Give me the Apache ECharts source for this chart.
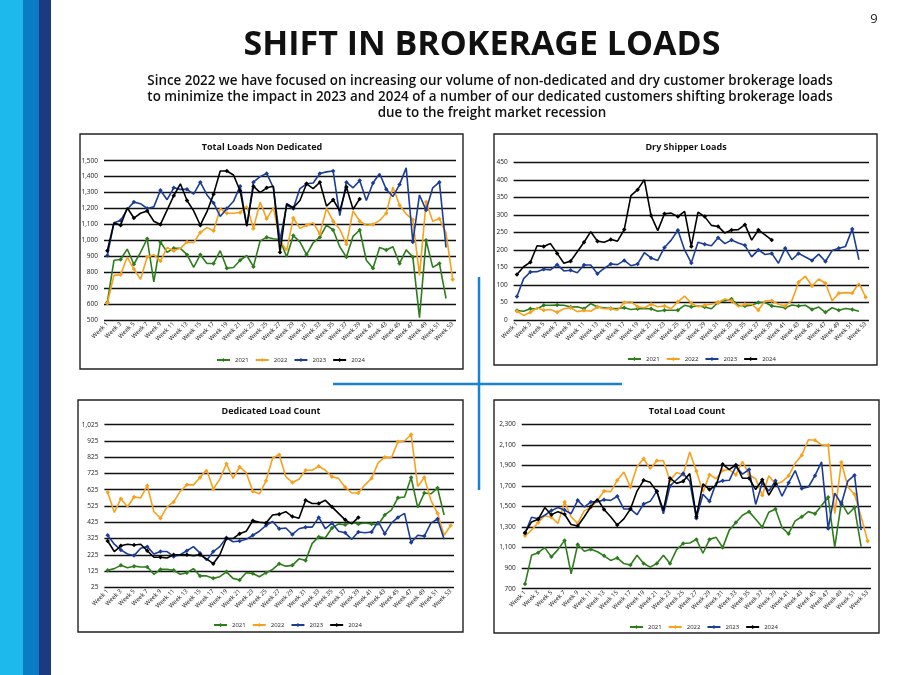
<!DOCTYPE html>
<html><head><meta charset="utf-8">
<script src="https://cdn.jsdelivr.net/npm/echarts@6/dist/echarts.min.js"></script>
<style>html,body{margin:0;padding:0;background:#fff}#c{width:900px;height:675px}</style>
</head><body><div id="c"></div>
<script>
const weeks = ['Week 1','Week 2','Week 3','Week 4','Week 5','Week 6','Week 7','Week 8','Week 9','Week 10',
'Week 11','Week 12','Week 13','Week 14','Week 15','Week 16','Week 17','Week 18','Week 19','Week 20',
'Week 21','Week 22','Week 23','Week 24','Week 25','Week 26','Week 27','Week 28','Week 29','Week 30',
'Week 31','Week 32','Week 33','Week 34','Week 35','Week 36','Week 37','Week 38','Week 39','Week 40',
'Week 41','Week 42','Week 43','Week 44','Week 45','Week 46','Week 47','Week 48','Week 49','Week 50',
'Week 51','Week 52','Week 53'];
const years = ['2021','2022','2023','2024'];

// Total Loads Non Dedicated
const nd2021 = [610,875,880,945,850,925,1010,740,990,925,950,950,910,830,910,855,855,935,825,830,875,905,835,995,1020,1010,1005,895,1030,990,910,985,1020,1095,1065,960,895,1025,1065,875,825,955,940,960,855,940,895,515,1000,830,855,635];
const nd2022 = [605,780,785,895,820,755,895,910,870,955,935,950,990,985,1050,1080,1060,1200,1170,1170,1175,1215,1075,1240,1135,1205,1000,935,1140,1075,1095,1110,1040,1200,1120,1070,975,1185,1120,1095,1100,1125,1170,1335,1220,1165,1130,780,1240,1120,1135,1045,755];
const nd2023 = [905,1110,1125,1195,1240,1230,1200,1210,1315,1255,1330,1320,1320,1290,1365,1285,1235,1150,1200,1245,1340,1090,1365,1400,1420,1330,1000,1220,1200,1325,1355,1360,1420,1430,1435,1155,1365,1330,1375,1250,1360,1420,1320,1275,1350,1455,990,1285,1190,1330,1365,955];
const nd2024 = [935,1110,1095,1205,1140,1170,1185,1120,1100,1190,1280,1355,1250,1185,1095,1180,1290,1435,1435,1410,1310,1090,1340,1300,1330,1340,925,1230,1205,1250,1355,1325,1365,1215,1255,1185,1335,1195,1260];

// Dry Shipper Loads
const dry2021 = [27,25,32,32,42,42,43,42,37,38,32,47,37,35,33,33,35,30,32,33,32,25,28,28,28,42,38,40,37,32,50,55,60,42,40,42,50,50,40,38,35,43,40,42,30,37,22,35,28,33,30,25];
const dry2022 = [25,13,22,35,28,30,22,32,35,24,27,25,37,32,32,28,50,52,38,35,45,38,40,32,52,68,48,38,42,45,50,60,55,38,45,45,28,55,55,45,40,55,108,125,97,117,105,55,76,78,77,105,65];
const dry2023 = [67,118,137,138,145,143,158,140,142,135,157,157,132,147,160,158,170,155,160,192,177,170,207,228,256,200,163,222,216,212,235,218,228,220,213,180,200,187,190,162,205,172,190,180,170,188,167,198,205,210,260,172];
const dry2024 = [130,152,165,212,210,218,190,162,168,195,222,252,225,222,230,225,258,355,372,400,298,255,303,305,295,310,210,308,295,270,267,248,257,258,272,228,257,243,228];

// Dedicated Load Count
const ded2021 = [130,140,160,145,155,150,150,105,135,135,130,105,115,140,95,95,80,90,120,80,70,115,110,90,115,135,170,155,160,200,190,295,335,330,390,415,410,425,415,420,415,410,470,500,575,580,700,515,605,600,635,470];
const ded2022 = [610,485,570,520,580,575,650,490,450,520,550,615,655,655,700,750,630,690,785,695,765,730,615,600,680,820,840,705,670,690,745,745,770,745,705,695,640,605,605,655,695,790,825,820,920,925,965,645,700,560,480,345,405];
const ded2023 = [345,290,255,230,220,265,275,230,245,245,215,225,250,275,235,190,245,275,330,305,310,320,345,370,405,430,385,390,350,385,395,395,455,385,420,370,360,320,365,360,365,430,355,420,455,480,300,345,340,420,445,320];
const ded2024 = [310,245,280,290,285,290,250,210,210,205,225,225,225,220,225,200,170,225,325,325,355,370,435,425,420,470,475,490,460,450,560,540,540,560,520,480,440,415,455];

// Total Load Count
const tot2021 = [745,1025,1050,1100,1010,1080,1170,845,1130,1065,1085,1060,1020,975,1000,945,930,1025,945,910,945,1025,945,1080,1140,1145,1180,1045,1180,1200,1100,1270,1345,1415,1450,1375,1300,1445,1475,1295,1235,1360,1400,1450,1430,1510,1590,1105,1540,1425,1490,1110];
const tot2022 = [1215,1270,1345,1410,1395,1335,1545,1400,1335,1460,1490,1560,1650,1645,1755,1835,1690,1890,1965,1865,1945,1945,1750,1830,1810,2030,1845,1640,1810,1770,1850,1860,1810,1940,1810,1770,1610,1800,1720,1740,1800,1920,2000,2150,2145,2100,2095,1430,1930,1690,1620,1400,1165];
const tot2023 = [1240,1395,1380,1415,1460,1490,1465,1430,1560,1495,1545,1545,1565,1560,1600,1475,1475,1420,1525,1550,1650,1430,1700,1760,1820,1745,1385,1620,1550,1730,1750,1755,1890,1815,1860,1520,1730,1650,1750,1600,1730,1850,1675,1690,1800,1935,1285,1630,1525,1750,1805,1270];
const tot2024 = [1245,1350,1375,1490,1420,1450,1425,1325,1310,1400,1500,1575,1470,1400,1320,1380,1475,1650,1755,1735,1645,1460,1775,1725,1745,1820,1400,1720,1665,1705,1910,1860,1905,1775,1775,1665,1760,1610,1720];

const chartTitles = ['Total Loads Non Dedicated','Dry Shipper Loads','Dedicated Load Count','Total Load Count'];
const yMin = [500, 0, 25, 700];
const yMax = [1500, 450, 1025, 2300];
const yStep = [100, 50, 100, 200];
const dataSets = [[nd2021,nd2022,nd2023,nd2024],[dry2021,dry2022,dry2023,dry2024],[ded2021,ded2022,ded2023,ded2024],[tot2021,tot2022,tot2023,tot2024]];

const colors = ['#2e7d1c','#f6a21e','#1c3d96','#000000'];
const FONT = '"Open Sans", "Liberation Sans", sans-serif';

// layout
const grids = [
  {left:104, top:160.7, width:352, height:159.3},
  {left:513.6, top:162.3, width:355.4, height:157.7},
  {left:104.4, top:424.7, width:349.6, height:162.6},
  {left:521.7, top:424.3, width:349.3, height:164.4}
];
const boxes = [[80,134,463,369],[494,134,877,365],[78,400,463,632],[494,400,879,633]];
const titlePos = [[262,147],[686,147],[271,411],[687,411]];
const legendPos = [[211,352],[622,351],[208,617],[624,619]];

const chart = echarts.init(document.getElementById('c'), null, {renderer:'canvas'});

const xAxes = [], yAxes = [], series = [], legends = [];
for (let g = 0; g < 4; g++) {
  xAxes.push({
    type:'category', gridIndex:g, data:weeks, boundaryGap:true,
    axisLine:{show:false}, axisTick:{show:false},
    axisLabel:{interval:1, rotate:45, fontSize:6, color:'#222', margin:3, fontFamily:FONT}
  });
  yAxes.push({
    type:'value', gridIndex:g, min:yMin[g], max:yMax[g], interval:yStep[g],
    axisLine:{show:false}, axisTick:{show:false},
    axisLabel:{fontSize:6.5, color:'#222', margin:6, fontFamily:FONT},
    splitLine:{show:true, lineStyle:{color:'#111', width:1.3}}
  });
  for (let s = 0; s < 4; s++) {
    series.push({
      name: years[s], type:'line', xAxisIndex:g, yAxisIndex:g,
      data: dataSets[g][s], symbol:'diamond', symbolSize:4.5, showSymbol:true,
      lineStyle:{width:1.6, color:colors[s]}, itemStyle:{color:colors[s]},
      emphasis:{disabled:true}, animation:false, z: 2 + s
    });
  }
  legends.push({
    left: legendPos[g][0], top: legendPos[g][1], itemWidth:13, itemHeight:5, itemGap:6,
    textStyle:{fontSize:6, color:'#222', fontFamily:FONT}, data: years, selectedMode:false
  });
}

const graphics = [
  {type:'rect', shape:{x:0,y:0,width:23,height:675}, style:{fill:'#1db9ec'}, z:-10},
  {type:'rect', shape:{x:23,y:0,width:16,height:675}, style:{fill:'#0a7cc4'}, z:-10},
  {type:'rect', shape:{x:39,y:0,width:12,height:675}, style:{fill:'#1c3a80'}, z:-10},
  {type:'line', shape:{x1:333,y1:384,x2:622,y2:384}, style:{stroke:'#1a80d8', lineWidth:2.5}, z:-5},
  {type:'line', shape:{x1:479,y1:277,x2:479,y2:490}, style:{stroke:'#1a80d8', lineWidth:2.5}, z:-5},
  {type:'text', x:482, y:45, style:{text:'SHIFT IN BROKERAGE LOADS', fill:'#111', font:'bold 34px "Open Sans", sans-serif', textAlign:'center', textVerticalAlign:'middle'}},
  {type:'text', x:490, y:81, style:{text:'Since 2022 we have focused on increasing our volume of non-dedicated and dry customer brokerage loads', fill:'#111', font:'600 13.4px "Open Sans", sans-serif', textAlign:'center', textVerticalAlign:'middle'}},
  {type:'text', x:490, y:97, style:{text:'to minimize the impact in 2023 and 2024 of a number of our dedicated customers shifting brokerage loads', fill:'#111', font:'600 13.4px "Open Sans", sans-serif', textAlign:'center', textVerticalAlign:'middle'}},
  {type:'text', x:492, y:113, style:{text:'due to the freight market recession', fill:'#111', font:'600 13.4px "Open Sans", sans-serif', textAlign:'center', textVerticalAlign:'middle'}},
  {type:'text', x:874, y:19, style:{text:'9', fill:'#222', font:'13px "Open Sans", sans-serif', textAlign:'center', textVerticalAlign:'middle'}}
];
for (let g = 0; g < 4; g++) {
  const b = boxes[g];
  graphics.push({type:'rect', shape:{x:b[0], y:b[1], width:b[2]-b[0], height:b[3]-b[1]}, style:{fill:'#fff', stroke:'#222', lineWidth:1.4}, z:-8});
  graphics.push({type:'text', x:titlePos[g][0], y:titlePos[g][1], style:{text:chartTitles[g], fill:'#111', font:'bold 9px "Open Sans", sans-serif', textAlign:'center', textVerticalAlign:'middle'}});
}

chart.setOption({
  animation:false,
  grid: grids,
  xAxis: xAxes,
  yAxis: yAxes,
  legend: legends,
  series: series,
  graphic: graphics
});
</script>
</body></html>
